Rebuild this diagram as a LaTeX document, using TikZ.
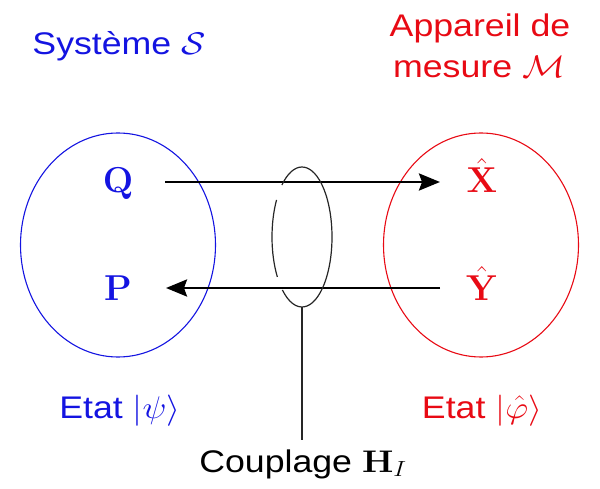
\RequirePackage{fix-cm}
\documentclass[tikz,border=0pt]{standalone}
\usepackage{amsmath}
\usepackage[no-math]{fontspec}
\setmainfont{Liberation Sans}
\usetikzlibrary{shapes.geometric,arrows.meta,calc}
\definecolor{sysblue}{RGB}{20,20,225}
\definecolor{appred}{RGB}{232,10,20}
\newcommand{\lbl}[1]{\scalebox{1.05}[0.92]{#1}}
\begin{document}
\begin{tikzpicture}[x=1pt,y=1pt,
  txt/.style={font=\fontsize{34}{40}\selectfont, inner sep=0pt, anchor=base},
  opn/.style={font=\fontsize{36}{40}\selectfont, inner sep=0pt, anchor=base},
  region/.style={ellipse, draw, line width=1.1pt, minimum width=195pt, minimum height=224pt, inner sep=0pt},
  flow/.style={line width=2.6pt, -{Stealth[length=21pt,width=17pt,inset=3pt]}},
  thinline/.style={line width=1.2pt, black!85}
]
\useasboundingbox (0,0) rectangle (600,-489);
% regions
\node[region, draw=sysblue] (sys) at (118,-245) {};
\node[region, draw=appred] (app) at (481,-245) {};
% titles
\node[txt, text=sysblue] (systitle) at (119,-55) {\lbl{Système $\mathcal{S}$}};
\node[txt, text=appred] (apptitle1) at (480,-37) {\lbl{Appareil de}};
\node[txt, text=appred] (apptitle2) at (479,-78) {\lbl{mesure $\mathcal{M}$}};
% operators
\node[opn, text=sysblue] (Q) at (118,-193) {$\mathbf{Q}$};
\node[opn, text=sysblue] (P) at (118,-301) {$\mathbf{P}$};
\node[opn, text=appred] (X) at (482,-193) {$\hat{\mathbf{X}}$};
\node[opn, text=appred] (Y) at (482,-301) {$\hat{\mathbf{Y}}$};
% states
\node[txt, text=sysblue] (psi) at (120,-418) {\lbl{Etat $|\psi\rangle$}};
\node[txt, text=appred] (phi) at (482,-418) {\lbl{Etat $|\hat{\varphi}\rangle$}};
% coupling
\node[txt] (coupl) at (303,-472) {\lbl{Couplage $\mathbf{H}_I$}};
% arrows
\draw[flow] ($(Q.base)+(47,11)$) -- ($(X.base)+(-42,11)$);
\draw[flow] ($(Y.base)+(-42,13)$) -- ($(P.base)+(48,13)$);
% coupling ring
\coordinate (ring) at (302,-237);
\coordinate (ringbot) at (302,-307);
\coordinate (lineend) at (302,-440);
\draw[thinline] ([shift={(229.2:30 and 70)}]ring) arc[start angle=229.2, end angle=492, x radius=30, y radius=70];
\draw[thinline] ([shift={(148:30 and 70)}]ring) arc[start angle=148, end angle=214.8, x radius=30, y radius=70];
\draw[thinline] (ringbot) -- (lineend);
\end{tikzpicture}
\end{document}
